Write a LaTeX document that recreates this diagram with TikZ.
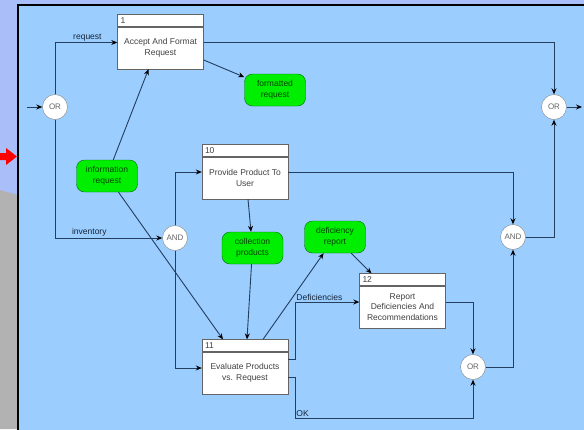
\documentclass[tikz,border=0pt]{standalone}
\usepackage{fontspec}
\setmainfont{Liberation Sans}
\usepackage{tikz}
\usetikzlibrary{positioning,arrows.meta}

\definecolor{panelblue}{RGB}{155,205,255}
\definecolor{lavender}{RGB}{170,190,250}
\definecolor{slidegray}{RGB}{178,178,178}
\definecolor{flowgreen}{RGB}{0,238,0}
\definecolor{flowedge}{RGB}{0,110,0}
\definecolor{linkblue}{RGB}{35,62,95}
\definecolor{boxedge}{RGB}{100,100,100}

\begin{document}
\begin{tikzpicture}[x=1pt, y=-1pt, >={Stealth[length=6pt,width=5pt,color=black]}, every node/.style={font=\fontsize{8.5}{10.5}\selectfont}]
\tikzset{
  procbox/.style={
    draw=boxedge,
    fill=white,
    minimum width=86pt,
    minimum height=42pt,
    align=center,
    inner sep=1pt,
    text=black!75,
  },
  prochead/.style={
    draw=boxedge,
    fill=white,
    minimum width=86pt,
    minimum height=12pt,
    text width=80pt,
    inner xsep=3pt,
    inner ysep=0pt,
    align=left,
    text=black!75,
  },
  flow/.style={
    draw=flowedge,
    fill=flowgreen,
    rounded corners=8pt,
    minimum width=61pt,
    minimum height=32pt,
    align=center,
    inner sep=1pt,
    text=flowedge!60!black,
  },
  junc/.style={
    draw=boxedge!80,
    fill=white,
    circle,
    minimum size=25pt,
    inner sep=0pt,
    text=black!60,
    font=\fontsize{8}{9}\selectfont,
  },
  link/.style={
    draw=linkblue,
    line width=0.9pt,
    ->,
  },
  lbl/.style={
    text=linkblue!60!black,
    inner sep=1pt,
  }
}

\useasboundingbox (0,0) rectangle (584,429);
\fill[lavender] (0,0) rectangle (584,429);
\fill[slidegray] (0,190) -- (18,195) -- (18,429) -- (0,429) -- cycle;
\fill[red] (0,153) -- (6,153) -- (6,148) -- (17,156.5) -- (6,165) -- (6,160) -- (0,160) -- cycle;
\fill[panelblue] (18,5) rectangle (590,435);
\draw[black, line width=1.2pt] (18,435) -- (18,5) -- (590,5);

\node[junc] (or1) at (55,107) {OR};
\node[junc] (or2) at (554,107) {OR};
\node[junc] (and1) at (175,238) {AND};
\node[junc] (and2) at (513,237) {AND};
\node[junc] (or3) at (473,367) {OR};

\node[procbox] (p1) at (160.5,48) {Accept And Format\\Request};
\node[prochead, above=0pt of p1] (p1n) {1};
\node[procbox] (p10) at (245,178) {Provide Product To\\User};
\node[prochead, above=0pt of p10] (p10n) {10};
\node[procbox] (p11) at (245,373) {Evaluate Products\\vs. Request};
\node[prochead, above=0pt of p11] (p11n) {11};
\node[procbox] (p12) at (402.5,307) {Report\\Deficiencies And\\Recommendations};
\node[prochead, above=0pt of p12] (p12n) {12};

\node[flow] (fr) at (275,90) {formatted\\request};
\node[flow] (ir) at (107,176) {information\\request};
\node[flow] (cp) at (252.5,248) {collection\\products};
\node[flow] (dr) at (335,237) {deficiency\\report};

\coordinate (in) at (27,107);
\coordinate (out) at (582,107);
\coordinate (defc) at (295,302);
\coordinate (okc) at (295,418);

\draw[link] (in) -- (or1);
\draw[link] (or1) |- node[lbl, pos=0.76, anchor=south] {request} ([yshift=5.5pt]p1.west);
\draw[link] (or1) |- node[lbl, pos=0.66, anchor=south] {inventory} (and1);
\draw[link] ([yshift=5.5pt]p1.east) -| (or2);
\draw[link] (or2) -- (out);
\draw[link] ([yshift=-12pt]p1.east) -- (fr);
\draw[link] (ir) -- ([xshift=-12pt]p1.south);
\draw[link] (ir) -- ([xshift=-22pt]p11n.north);

\draw[link] (and1) |- ([yshift=6pt]p10.west);
\draw[link] (and1) |- ([yshift=5pt]p11.west);
\draw[link] ([yshift=6pt]p10.east) -| (and2);
\draw[link] ([xshift=3pt]p10.south) -- (cp);
\draw[link] (cp) -- ([xshift=2pt]p11n.north);
\draw[link] ([xshift=18pt]p11n.north) -- (dr);
\draw[link] (dr) -- ([xshift=-31pt]p12n.north);

\draw[link] ([yshift=14pt]p11.east) -| (defc) node[lbl, above right] {Deficiencies} -- ([yshift=5pt]p12.west);
\draw[link] ([yshift=-4pt]p11.east) -| (okc) node[lbl, above right] {OK} -| (or3);
\draw[link] ([yshift=5pt]p12.east) -| (or3);
\draw[link] (or3) -| (and2);
\draw[link] (and2) -| (or2);

\end{tikzpicture}
\end{document}
